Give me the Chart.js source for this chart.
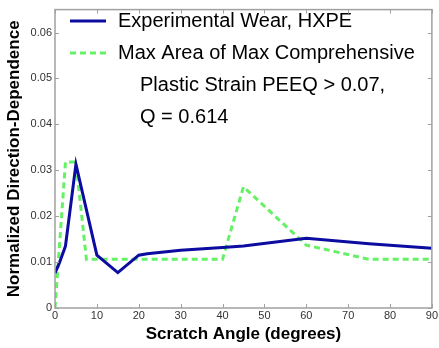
<!DOCTYPE html>
<html>
<head>
<meta charset="utf-8">
<script src="https://cdn.jsdelivr.net/npm/chart.js@4"></script>
<style>
  html, body { margin: 0; padding: 0; background: #fff; }
</style>
</head>
<body>
<canvas id="chart" width="439" height="348"></canvas>
<script>
// scratch angle data (degrees)
var wearAngles = [0, 1, 2.5, 5, 10, 15, 20, 22, 30, 40, 45, 60, 75, 90];
var wearValues = [0.0076, 0.0097, 0.0135, 0.0313, 0.0115, 0.0077, 0.0115, 0.0118, 0.0126, 0.0132, 0.0135, 0.0152, 0.014, 0.013];

var areaAngles = [0, 2.5, 5, 7.5, 40, 45, 60, 75, 90];
var areaValues = [0, 0.0318, 0.0318, 0.0106, 0.0106, 0.0264, 0.0137, 0.0106, 0.0106];

var xTicks = [0, 10, 20, 30, 40, 50, 60, 70, 80, 90];
var yTicks = [0, 0.01, 0.02, 0.03, 0.04, 0.05, 0.06];

var legendLines = [
    ["Experimental Wear, HXPE"],
    ["Max Area of Max Comprehensive", "Plastic Strain PEEQ > 0.07,", "Q = 0.614"]
];

function toPoints(xs, ys) {
    return xs.map(function (x, i) { return { x: x, y: ys[i] }; });
}

var frameColor = "#a0a0a0";

// box around plot with inward tick marks, like the matlab figure
var framePlugin = {
    id: "frame",
    afterDraw: function (chart) {
        var c = chart.ctx, a = chart.chartArea;
        var xs = chart.scales.x, ys = chart.scales.y;
        c.save();
        c.strokeStyle = frameColor;
        c.lineWidth = 1.5;
        c.strokeRect(a.left, a.top, a.right - a.left, a.bottom - a.top);
        c.lineWidth = 1;
        c.beginPath();
        xTicks.forEach(function (t) {
            var px = Math.round(xs.getPixelForValue(t)) + 0.5;
            c.moveTo(px, a.bottom); c.lineTo(px, a.bottom - 4);
            c.moveTo(px, a.top); c.lineTo(px, a.top + 4);
        });
        yTicks.forEach(function (t) {
            var py = Math.round(ys.getPixelForValue(t)) + 0.5;
            c.moveTo(a.left, py); c.lineTo(a.left + 4, py);
            c.moveTo(a.right, py); c.lineTo(a.right - 4, py);
        });
        c.stroke();
        c.restore();
    }
};

// legend drawn inside the plot
var legendPlugin = {
    id: "innerLegend",
    afterDatasetsDraw: function (chart) {
        var c = chart.ctx;
        c.save();
        c.font = "20px 'Liberation Sans', Arial, sans-serif";
        c.fillStyle = "#000";
        c.textBaseline = "middle";
        var rows = [
            { y: 21, ds: 0 },
            { y: 53, ds: 1 }
        ];
        rows.forEach(function (r, i) {
            var ds = chart.data.datasets[r.ds];
            c.strokeStyle = ds.borderColor;
            c.lineWidth = ds.borderWidth;
            c.setLineDash(ds.borderDash || []);
            c.beginPath();
            c.moveTo(70, r.y); c.lineTo(106, r.y);
            c.stroke();
            c.setLineDash([]);
            legendLines[i].forEach(function (txt, j) {
                var x = j === 0 ? 118 : 140;
                c.fillText(txt, x, r.y + j * 32);
            });
        });
        c.restore();
    }
};

new Chart(document.getElementById("chart").getContext("2d"), {
    type: "line",
    data: {
        datasets: [
            {
                label: "Experimental Wear, HXPE",
                data: toPoints(wearAngles, wearValues),
                borderColor: "#0c0ca0",
                borderWidth: 3,
                pointRadius: 0,
                tension: 0
            },
            {
                label: "Max Area of Max Comprehensive Plastic Strain PEEQ > 0.07, Q = 0.614",
                data: toPoints(areaAngles, areaValues),
                borderColor: "#66f066",
                borderWidth: 3,
                borderDash: [6, 4],
                pointRadius: 0,
                tension: 0
            }
        ]
    },
    options: {
        responsive: false,
        animation: false,
        layout: { autoPadding: false, padding: { left: 0, right: 4, top: 9, bottom: 0 } },
        plugins: {
            legend: { display: false },
            tooltip: { enabled: false }
        },
        scales: {
            x: {
                type: "linear",
                min: 0,
                max: 90,
                afterBuildTicks: function (s) { s.ticks = xTicks.map(function (v) { return { value: v }; }); },
                afterFit: function (s) { s.height = 40; },
                grid: { display: false, drawTicks: false },
                border: { display: false },
                ticks: {
                    color: "#333",
                    font: { family: "'Liberation Sans', Arial, sans-serif", size: 11 },
                    padding: 1,
                    maxRotation: 0
                },
                title: {
                    display: true,
                    text: "Scratch Angle (degrees)",
                    color: "#000",
                    font: { family: "'Liberation Sans', Arial, sans-serif", size: 17, weight: "bold" },
                    padding: { top: 0, bottom: 3 }
                }
            },
            y: {
                type: "linear",
                min: 0,
                max: 0.065,
                afterBuildTicks: function (s) { s.ticks = yTicks.map(function (v) { return { value: v }; }); },
                afterFit: function (s) { s.width = 55; },
                grid: { display: false, drawTicks: false },
                border: { display: false },
                ticks: {
                    color: "#333",
                    font: { family: "'Liberation Sans', Arial, sans-serif", size: 11 },
                    padding: 3,
                    callback: function (v) { return String(v); }
                },
                title: {
                    display: true,
                    text: "Normalized Direction-Dependence",
                    color: "#000",
                    font: { family: "'Liberation Sans', Arial, sans-serif", size: 17, weight: "bold" },
                    padding: { top: 4, bottom: 0 }
                }
            }
        }
    },
    plugins: [framePlugin, legendPlugin]
});
</script>
</body>
</html>
